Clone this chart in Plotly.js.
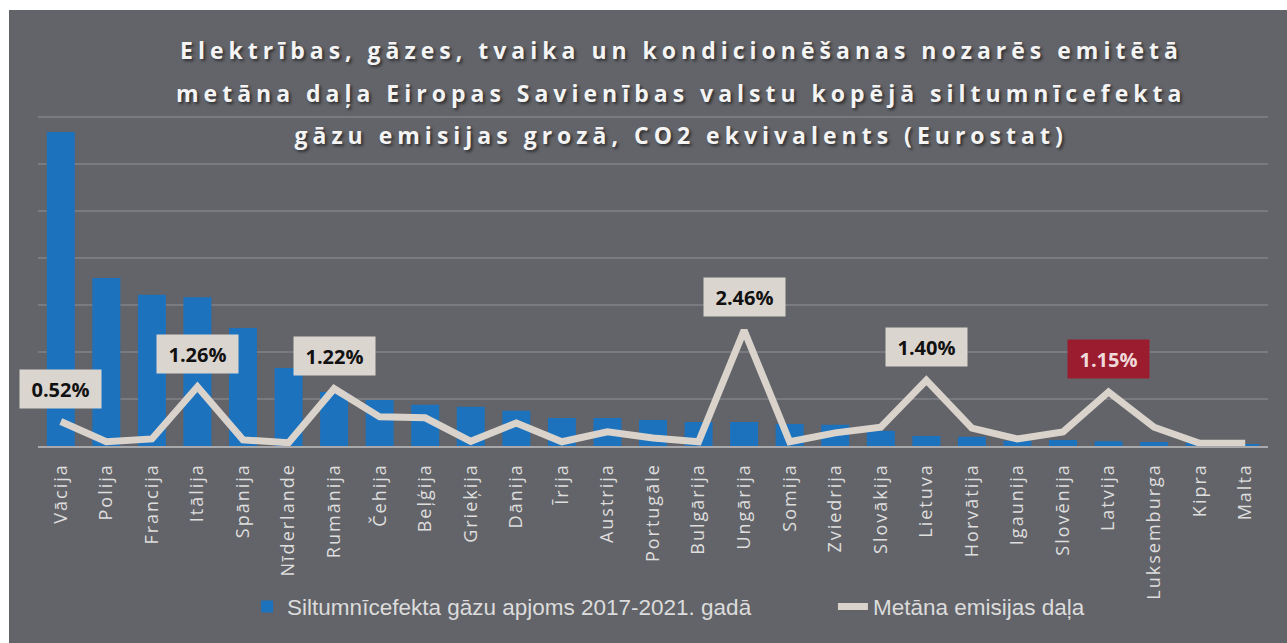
<!DOCTYPE html>
<html>
<head>
<meta charset="utf-8">
<script src="https://cdn.plot.ly/plotly-3.0.1.min.js"></script>
<style>
  html, body { margin: 0; padding: 0; background: #ffffff; }
  #chart { position: absolute; left: 9px; top: 10px; width: 1278px; height: 633px; }
  g.annotation[data-index="0"] text, g.annotation[data-index="1"] text, g.annotation[data-index="2"] text { letter-spacing: 5px; }
  g.xtick text { letter-spacing: 2px; }
</style>
</head>
<body>
<div id="chart"></div>
<script>
const countries = ['Vācija','Polija','Francija','Itālija','Spānija','Nīderlande','Rumānija','Čehija','Beļģija','Grieķija','Dānija','Īrija','Austrija','Portugāle','Bulgārija','Ungārija','Somija','Zviedrija','Slovākija','Lietuva','Horvātija','Igaunija','Slovēnija','Latvija','Luksemburga','Kipra','Malta'];
const ghgVolume = [3925, 2100, 1890, 1860, 1475, 975, 675, 575, 515, 490, 440, 350, 350, 325, 300, 300, 275, 265, 190, 125, 115, 65, 75, 60, 50, 40, 15];
const methaneShare = [0.52, 0.09, 0.15, 1.26, 0.13, 0.07, 1.22, 0.62, 0.60, 0.10, 0.49, 0.09, 0.30, 0.17, 0.09, 2.46, 0.09, 0.28, 0.40, 1.40, 0.38, 0.15, 0.30, 1.15, 0.40, 0.06, 0.06];
const labeledCountries = ['Vācija','Itālija','Rumānija','Ungārija','Lietuva','Latvija'];
const highlightCountry = 'Latvija';
const titleLines = [
  'Elektrības, gāzes, tvaika un kondicionēšanas nozarēs emitētā',
  'metāna daļa Eiropas Savienības valstu kopējā siltumnīcefekta',
  'gāzu emisijas grozā, CO2 ekvivalents (Eurostat)'
];
const seriesNames = ['Siltumnīcefekta gāzu apjoms 2017-2021. gadā', 'Metāna emisijas daļa'];

const BG = '#636469';
const leftRange = 4700;

const traces = [
  {
    type: 'bar', x: countries, y: ghgVolume, name: seriesNames[0],
    marker: { color: '#1d72bd' }, yaxis: 'y', legend: 'legend', hoverinfo: 'x+y'
  },
  {
    type: 'scatter', mode: 'lines', x: countries, y: methaneShare, name: seriesNames[1],
    line: { color: '#d9d3cc', width: 7 }, yaxis: 'y2', legend: 'legend2'
  }
];

const titleY = [1.053, 0.939, 0.826];
const annotations = titleLines.map((t, i) => ({
  xref: 'paper', yref: 'paper', x: 0.523, y: titleY[i], xanchor: 'center', yanchor: 'middle',
  text: '<b>' + t + '</b>', showarrow: false,
  font: { family: 'Open Sans, sans-serif', size: 23, color: '#f4f4f4', shadow: '2px 2px 3px rgba(0,0,0,0.55)' }
}));

labeledCountries.forEach(c => {
  const i = countries.indexOf(c);
  const hi = c === highlightCountry;
  annotations.push({
    x: c, y: methaneShare[i], xref: 'x', yref: 'y2', yshift: 33,
    text: '<b>' + methaneShare[i].toFixed(2) + '%</b>',
    showarrow: false, width: 79, height: 36, align: 'center', valign: 'middle',
    bgcolor: hi ? '#9b1c2e' : '#dbd5cf',
    font: { family: 'Open Sans, sans-serif', size: 20, color: hi ? '#f0d9d9' : '#111111' }
  });
});

const legendFont = { family: 'Liberation Sans, Arial, sans-serif', size: 22.5, color: '#dcdcdc' };

const layout = {
  width: 1278, height: 633,
  paper_bgcolor: BG, plot_bgcolor: BG,
  margin: { l: 29, r: 19, t: 60, b: 197, pad: 0 },
  showlegend: true,
  bargap: 0.385,
  xaxis: {
    type: 'category', range: [-0.5, countries.length - 0.5], autorange: false,
    showgrid: false, zeroline: false,
    showline: true, linecolor: '#a9a9ab', linewidth: 2,
    ticks: '', tickangle: -90, ticklabelstandoff: 8,
    tickfont: { family: 'Open Sans, sans-serif', size: 18, color: '#dedede' }
  },
  yaxis: {
    range: [0, leftRange], autorange: false, dtick: leftRange / 8, showgrid: true, gridcolor: '#7a7b80', gridwidth: 1.5,
    zeroline: false, showticklabels: false, ticks: ''
  },
  yaxis2: {
    range: [0, 8], autorange: false, overlaying: 'y', side: 'right', showgrid: false, zeroline: false,
    showticklabels: false, ticks: ''
  },
  legend: {
    orientation: 'h', x: 0.17, xanchor: 'left', y: -0.428, yanchor: 'middle',
    bgcolor: 'rgba(0,0,0,0)', font: legendFont
  },
  legend2: {
    orientation: 'h', x: 0.6463, xanchor: 'left', y: -0.428, yanchor: 'middle',
    bgcolor: 'rgba(0,0,0,0)', font: legendFont
  },
  annotations: annotations
};

Plotly.newPlot('chart', traces, layout, { displayModeBar: false, responsive: false });
</script>
</body>
</html>
